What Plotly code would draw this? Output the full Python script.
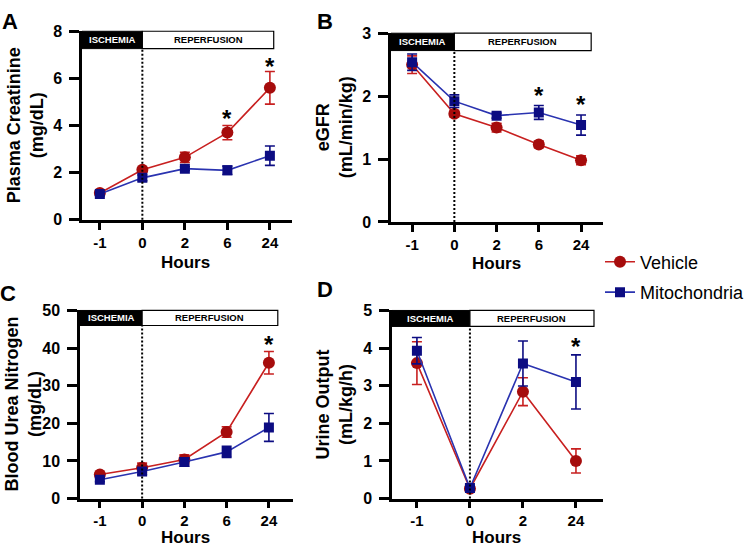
import plotly.graph_objects as go

# ---------------- data ----------------
hours_5 = ["-1", "0", "2", "6", "24"]
hours_4 = ["-1", "0", "2", "24"]

creat_vehicle = [1.14, 2.12, 2.65, 3.70, 5.60]
creat_vehicle_err = [0.08, 0.10, 0.22, 0.30, 0.69]
creat_mito = [1.10, 1.78, 2.17, 2.10, 2.72]
creat_mito_err = [0.08, 0.12, 0.08, 0.18, 0.41]

egfr_vehicle = [2.50, 1.72, 1.50, 1.23, 0.98]
egfr_vehicle_err = [0.14, 0.05, 0.07, 0.05, 0.07]
egfr_mito = [2.54, 1.92, 1.69, 1.74, 1.54]
egfr_mito_err = [0.13, 0.10, 0.04, 0.11, 0.16]

bun_vehicle = [6.4, 8.2, 10.4, 17.7, 36.1]
bun_vehicle_err = [0.5, 1.2, 1.2, 1.4, 3.0]
bun_mito = [5.0, 7.2, 9.7, 12.4, 18.9]
bun_mito_err = [0.5, 0.8, 1.1, 1.5, 3.7]

uo_vehicle = [3.60, 0.26, 2.84, 1.00]
uo_vehicle_err = [0.57, 0.05, 0.37, 0.32]
uo_mito = [3.93, 0.28, 3.59, 3.10]
uo_mito_err = [0.35, 0.05, 0.60, 0.72]

# significance stars: (category index, y of glyph centre)
stars_a = [(3, 4.53), (4, 6.70)]
stars_b = [(3, 2.09), (4, 1.95)]
stars_c = [(4, 42.3)]
stars_d = [(3, 4.17)]

# ---------------- style ----------------
FONT = "Liberation Sans, Arial, sans-serif"
RED_M, RED_L = "#A60C0C", "#C82020"
BLUE_M, BLUE_L = "#0C0C82", "#2A33B0"
W, H = 750, 556

def px_x(p):
    return p / W

def px_y(p):
    return (H - p) / H

panels = [
    dict(s="", labels=hours_5, veh=creat_vehicle, veh_err=creat_vehicle_err,
         mito=creat_mito, mito_err=creat_mito_err, yr=[0, 8], dtick=2,
         xr=[-0.42, 4.52], xdom=[px_x(82), px_x(292)], ydom=[px_y(218.5), px_y(24)],
         title="<b>Plasma Creatinine</b><br><b>(mg/dL)</b>", tx=25, ty=121,
         hx=185, hy=263, letter="A", lx=10, ly=14, rep_end=4.09, bh=0.092, stars=stars_a),
    dict(s="2", labels=hours_5, veh=egfr_vehicle, veh_err=egfr_vehicle_err,
         mito=egfr_mito, mito_err=egfr_mito_err, yr=[0, 3], dtick=1,
         xr=[-0.5, 4.52], xdom=[px_x(391), px_x(603)], ydom=[px_y(220.7), px_y(26)],
         title="<b>eGFR</b><br><b>(mL/min/kg)</b>", tx=334, ty=123,
         hx=496, hy=264, letter="B", lx=325, ly=14, rep_end=4.24, bh=0.092, stars=stars_b),
    dict(s="3", labels=hours_5, veh=bun_vehicle, veh_err=bun_vehicle_err,
         mito=bun_mito, mito_err=bun_mito_err, yr=[0, 50], dtick=10,
         xr=[-0.47, 4.57], xdom=[px_x(80), px_x(293)], ydom=[px_y(506), px_y(312)],
         title="<b>Blood Urea Nitrogen</b><br><b>(mg/dL)</b>", tx=23, ty=409,
         hx=185, hy=546, letter="C", lx=8, ly=294, rep_end=4.21, bh=0.08, stars=stars_c),
    dict(s="4", labels=hours_4, veh=uo_vehicle, veh_err=uo_vehicle_err,
         mito=uo_mito, mito_err=uo_mito_err, yr=[0, 5], dtick=1,
         xr=[-0.47, 3.51], xdom=[px_x(392), px_x(603)], ydom=[px_y(506), px_y(312)],
         title="<b>Urine Output</b><br><b>(mL/kg/h)</b>", tx=334, ty=409,
         hx=496, hy=546, letter="D", lx=325, ly=290, rep_end=3.34, bh=0.085, stars=stars_d),
]

fig = go.Figure()
shapes, annotations = [], []
layout_axes = {}

for i, p in enumerate(panels):
    s = p["s"]
    xa, ya = "x" + s, "y" + s
    first = (i == 0)
    fig.add_trace(go.Scatter(
        x=p["labels"], y=p["veh"], xaxis=xa, yaxis=ya, name="Vehicle",
        mode="lines+markers", legendgroup="veh", showlegend=first,
        line=dict(color=RED_L, width=1.6),
        marker=dict(color=RED_M, size=12, symbol="circle"),
        error_y=dict(type="data", array=p["veh_err"], color=RED_L, thickness=1.6, width=5),
    ))
    fig.add_trace(go.Scatter(
        x=p["labels"], y=p["mito"], xaxis=xa, yaxis=ya, name="Mitochondria",
        mode="lines+markers", legendgroup="mito", showlegend=first,
        line=dict(color=BLUE_L, width=1.6),
        marker=dict(color=BLUE_M, size=10, symbol="square"),
        error_y=dict(type="data", array=p["mito_err"], color=BLUE_M, thickness=1.6, width=5),
    ))

    layout_axes["xaxis" + s] = dict(
        domain=p["xdom"], range=p["xr"], type="category", anchor=ya,
        showline=True, linewidth=2.5, linecolor="black", ticks="outside",
        ticklen=7, tickwidth=2.5, tickcolor="black", showgrid=False, zeroline=False,
        tickfont=dict(family=FONT, size=15, color="black", weight="bold"),
    )
    layout_axes["yaxis" + s] = dict(
        domain=p["ydom"], range=p["yr"], dtick=p["dtick"], anchor=xa,
        showline=True, linewidth=2.5, linecolor="black", ticks="outside",
        ticklen=10, tickwidth=2.5, tickcolor="black", showgrid=False, zeroline=False,
        ticklabelstandoff=4,
        tickfont=dict(family=FONT, size=16, color="black", weight="bold"),
    )

    bh = p["bh"]
    yd = ya + " domain"
    shapes.append(dict(type="line", xref=xa, yref=yd, x0=1, x1=1, y0=0, y1=1 - bh,
                       line=dict(color="black", width=2, dash="2px,2px")))
    shapes.append(dict(type="rect", xref=xa, yref=yd, x0=p["xr"][0], x1=1,
                       y0=1 - bh, y1=1.0, fillcolor="black", line=dict(color="black", width=1)))
    shapes.append(dict(type="rect", xref=xa, yref=yd, x0=1, x1=p["rep_end"],
                       y0=1 - bh, y1=1.0, fillcolor="white", line=dict(color="black", width=1.2)))
    annotations.append(dict(text="<b>ISCHEMIA</b>", xref=xa, yref=yd,
                            x=(p["xr"][0] + 1) / 2, y=1 - bh / 2, showarrow=False,
                            yanchor="middle",
                            font=dict(family=FONT, size=9.5, color="white")))
    annotations.append(dict(text="<b>REPERFUSION</b>", xref=xa, yref=yd,
                            x=(1 + p["rep_end"]) / 2, y=1 - bh / 2, showarrow=False,
                            yanchor="middle",
                            font=dict(family=FONT, size=9.5, color="black")))
    for (cx, cy) in p["stars"]:
        annotations.append(dict(text="<b>*</b>", xref=xa, yref=ya, x=cx, y=cy,
                                yshift=-5, showarrow=False,
                                font=dict(family=FONT, size=24, color="black")))
    annotations.append(dict(text=p["title"], xref="paper", yref="paper",
                            x=px_x(p["tx"]), y=px_y(p["ty"]), textangle=-90,
                            showarrow=False, xanchor="center", yanchor="middle",
                            font=dict(family=FONT, size=18, color="black")))
    annotations.append(dict(text="<b>Hours</b>", xref="paper", yref="paper",
                            x=px_x(p["hx"]), y=px_y(p["hy"]), showarrow=False,
                            xanchor="center", yanchor="middle",
                            font=dict(family=FONT, size=17, color="black")))
    annotations.append(dict(text="<b>" + p["letter"] + "</b>", xref="paper", yref="paper",
                            x=px_x(p["lx"]), y=px_y(p["ly"]), showarrow=False,
                            xanchor="center", yanchor="middle",
                            font=dict(family=FONT, size=22, color="black")))

fig.update_layout(
    width=W, height=H,
    margin=dict(l=0, r=0, t=0, b=0),
    paper_bgcolor="white", plot_bgcolor="white",
    font=dict(family=FONT, color="black"),
    showlegend=True,
    legend=dict(x=px_x(600), y=px_y(243), xanchor="left", yanchor="top",
                font=dict(family=FONT, size=18, color="black"),
                bgcolor="rgba(0,0,0,0)", tracegroupgap=4),
    shapes=shapes, annotations=annotations,
    **layout_axes,
)

fig.write_html("out.html", config={"displayModeBar": False},
               post_script="document.body.style.margin='0px';")
